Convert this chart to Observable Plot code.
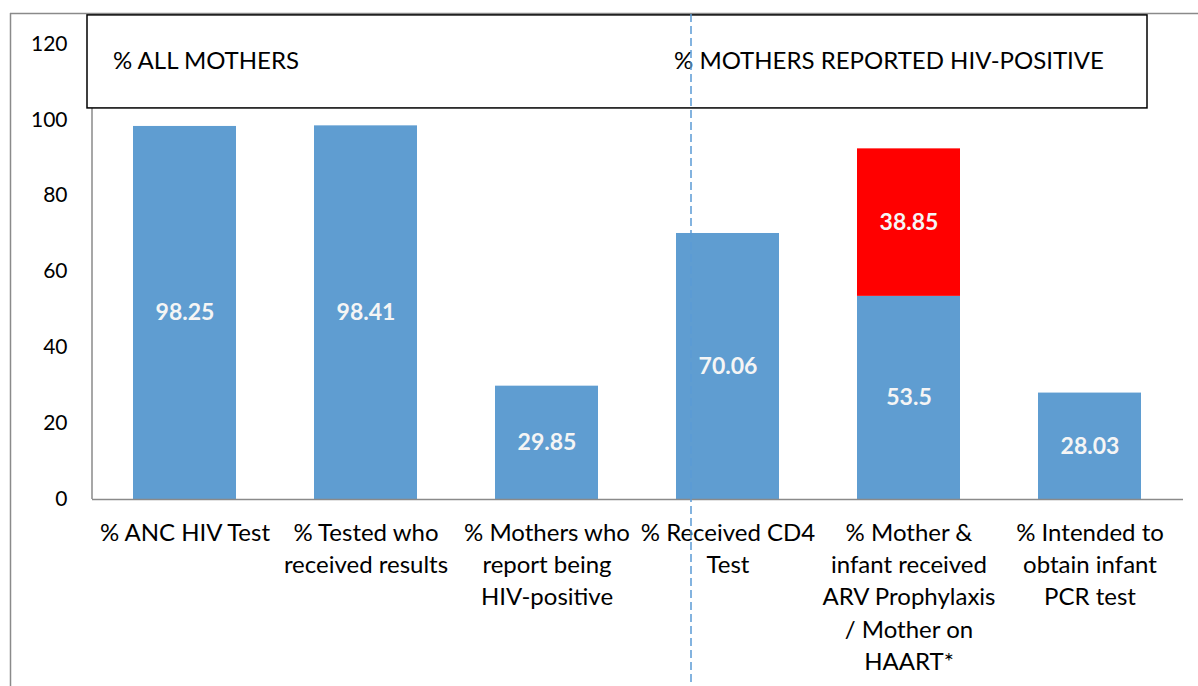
<!DOCTYPE html>
<html><head><meta charset="utf-8">
<script src="https://cdn.jsdelivr.net/npm/d3@7"></script>
<script src="https://cdn.jsdelivr.net/npm/@observablehq/plot@0.6"></script>
<style>body{margin:0;background:#fff} svg{display:block}</style>
</head><body><div id="chart"></div>
<script>
const categories = ["% ANC HIV Test", "% Tested who received results", "% Mothers who report being HIV-positive", "% Received CD4 Test", "% Mother & infant received ARV Prophylaxis / Mother on HAART*", "% Intended to obtain infant PCR test"];
const tickLabels = ["% ANC HIV Test", "% Tested who\nreceived results", "% Mothers who\nreport being\nHIV-positive", "% Received CD4\nTest", "% Mother &\ninfant received\nARV Prophylaxis\n/ Mother on\nHAART*", "% Intended to\nobtain infant\nPCR test"];
const baseValues = [98.25, 98.41, 29.85, 70.06, 53.5, 28.03];
const extraValues = [null, null, null, null, 38.85, null];
const yTicks = [0, 20, 40, 60, 80, 100, 120];
const groupLabels = ["% ALL MOTHERS", "% MOTHERS REPORTED HIV-POSITIVE"];

const BLUE = "#5f9dd1", RED = "#ff0000", GRAY = "#8a8a8a";
const FONT = "Lato, 'Open Sans', sans-serif";

const rows = [];
categories.forEach((c, i) => {
  rows.push({cat: c, series: "base", value: baseValues[i]});
  if (extraValues[i] != null) rows.push({cat: c, series: "extra", value: extraValues[i]});
});

function decorations(index, scales, values, dimensions) {
  const {x, y} = scales;
  const {width, height, marginLeft, marginTop} = dimensions;
  const bw = x.bandwidth();
  const g = d3.create("svg:g");
  g.append("line").attr("x1", 10).attr("x2", width).attr("y1", marginTop + 0.5).attr("y2", marginTop + 0.5)
    .attr("stroke", GRAY).attr("stroke-width", 1.5);
  g.append("line").attr("x1", 10.5).attr("x2", 10.5).attr("y1", marginTop).attr("y2", height)
    .attr("stroke", GRAY).attr("stroke-width", 1.5);
  g.append("line").attr("x1", marginLeft).attr("x2", marginLeft).attr("y1", y(103)).attr("y2", y(0))
    .attr("stroke", GRAY).attr("stroke-width", 1.5);
  const bx0 = x(categories[0]) - 46, bx1 = x(categories[5]) + bw + 6;
  g.append("rect").attr("x", bx0).attr("y", y(127.5)).attr("width", bx1 - bx0).attr("height", y(103) - y(127.5))
    .attr("fill", "#fff").attr("stroke", "#000").attr("stroke-width", 1.5);
  g.append("text").attr("x", bx0 + 26).attr("y", y(115.5)).attr("dy", "0.35em").attr("text-anchor", "start")
    .attr("font-family", FONT).attr("font-size", 24).attr("fill", "#000").text(groupLabels[0]);
  g.append("text").attr("x", x(categories[3]) - 2).attr("y", y(115.5)).attr("dy", "0.35em").attr("text-anchor", "start")
    .attr("font-family", FONT).attr("font-size", 24).attr("fill", "#000").text(groupLabels[1]);
  return g.node();
}

function divider(index, scales, values, dimensions) {
  const {x} = scales;
  const xx = x(categories[3]) + 15;
  const g = d3.create("svg:g");
  g.append("line").attr("x1", xx).attr("x2", xx).attr("y1", dimensions.marginTop + 1).attr("y2", dimensions.height)
    .attr("stroke", "#5b9bd5").attr("stroke-width", 1.5).attr("stroke-dasharray", "8,4");
  return g.node();
}

const chart = Plot.plot({
  width: 1198,
  height: 686,
  marginLeft: 92,
  marginRight: 15,
  marginTop: 13,
  marginBottom: 187,
  style: {fontFamily: FONT, background: "#fff", color: "#000"},
  x: {domain: categories, paddingInner: 0.43, paddingOuter: 0.215},
  y: {domain: [0, 128]},
  marks: [
    decorations,
    Plot.barY(rows, Plot.stackY({x: "cat", y: "value", fill: d => d.series === "base" ? BLUE : RED, order: null})),
    Plot.text(rows, Plot.stackY({x: "cat", y: "value", text: d => String(d.value), fill: "#f5f5f5", fontSize: 23, fontWeight: "bold", order: null})),
    Plot.ruleY([0], {stroke: GRAY, strokeWidth: 1.5}),
    Plot.axisY({ticks: yTicks, tickSize: 0, tickPadding: 25, fontSize: 21, label: null}),
    Plot.axisX({tickSize: 0, tickPadding: 18, fontSize: 24, lineHeight: 1.35, label: null,
      tickFormat: d => tickLabels[categories.indexOf(d)]}),
    divider
  ]
});
document.getElementById("chart").appendChild(chart);
</script>
</body></html>
